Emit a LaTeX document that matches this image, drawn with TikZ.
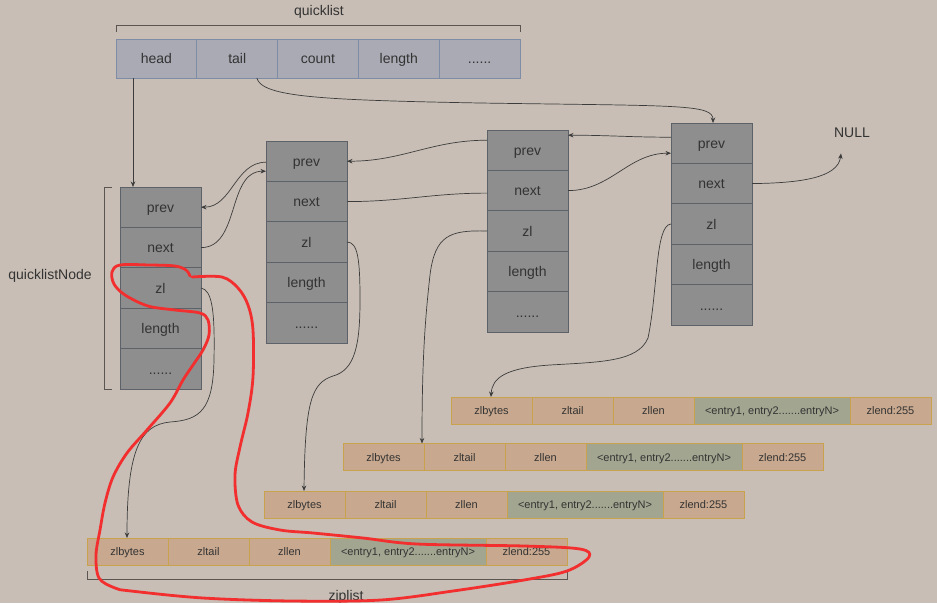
\documentclass[tikz,border=0pt]{standalone}
\usepackage{fontspec}
\setmainfont{Liberation Sans}
\usetikzlibrary{arrows.meta,calc}
\definecolor{bg}{HTML}{C8BEB5}
\definecolor{qfill}{HTML}{A9AAB4}
\definecolor{qborder}{HTML}{7F8CA6}
\definecolor{nfill}{HTML}{8E8E8E}
\definecolor{nborder}{HTML}{5D6168}
\definecolor{zfill}{HTML}{C8A88E}
\definecolor{zborder}{HTML}{C9A24E}
\definecolor{efill}{HTML}{A2A690}
\definecolor{txt}{HTML}{333333}
\definecolor{linec}{HTML}{3C3C3C}
\definecolor{brc}{HTML}{5A5550}
\definecolor{redc}{HTML}{F22E2E}
\newcommand\mkqnode[3]{%
  \node[ncell,anchor=north] (#1prev) at (#2,#3) {prev};
  \node[ncell,anchor=north] (#1next) at (#1prev.south) {next};
  \node[ncell,anchor=north] (#1zl) at (#1next.south) {zl};
  \node[ncell,anchor=north] (#1len) at (#1zl.south) {length};
  \node[ncell,anchor=north] (#1dots) at (#1len.south) {......};}
\newcommand\mkzl[3]{%
  \node[zs,anchor=north west] (#1a) at (#2,#3) {zlbytes};
  \node[zs,anchor=west] (#1b) at (#1a.east) {zltail};
  \node[zs,anchor=west] (#1c) at (#1b.east) {zllen};
  \node[ze,anchor=west] (#1d) at (#1c.east) {<entry1, entry2.......entryN>};
  \node[zs,anchor=west] (#1e) at (#1d.east) {zlend:255};}
\begin{document}
\begin{tikzpicture}[x=1pt,y=-1pt,
  qcell/.style={draw=qborder, fill=qfill, line width=0.8pt, minimum width=80.8pt, minimum height=39pt, inner sep=0pt, outer sep=0pt, font=\fontsize{14}{16}\selectfont, text=txt, text height=12.5pt, text depth=2pt},
  ncell/.style={draw=nborder, fill=nfill, line width=0.8pt, minimum width=81pt, minimum height=40.4pt, inner sep=0pt, outer sep=0pt, font=\fontsize{14}{16}\selectfont, text=txt, text height=12.5pt, text depth=2pt},
  zcell/.style={draw=zborder, fill=zfill, line width=0.8pt, minimum height=27pt, inner sep=0pt, outer sep=0pt, font=\fontsize{11}{13}\selectfont, text=txt, text height=9.5pt, text depth=1.5pt},
  zs/.style={zcell, minimum width=81pt},
  ze/.style={zcell, fill=efill, minimum width=156pt},
  conn/.style={draw=linec, line width=0.7pt},
  arr/.style={conn, -{Stealth[length=5.5pt,width=4.5pt]}},
  brk/.style={draw=brc, line width=0.9pt},
  lbl/.style={font=\fontsize{14}{16}\selectfont, text=txt},
  redmark/.style={draw=redc, line width=2.8pt, line cap=round, line join=round}]
\useasboundingbox[fill=bg] (0,0) rectangle (937,603);

% quicklist
\node[qcell,anchor=north west] (qhead) at (116,39) {head};
\node[qcell,anchor=west] (qtail) at (qhead.east) {tail};
\node[qcell,anchor=west] (qcount) at (qtail.east) {count};
\node[qcell,anchor=west] (qlen) at (qcount.east) {length};
\node[qcell,anchor=west] (qdots) at (qlen.east) {......};
\node[lbl] (qlabel) at (319,12) {quicklist};
\draw[brk] ([yshift=7pt]qhead.north west) -- ([yshift=14pt]qhead.north west) -| ([yshift=7pt]qdots.north east);

% quicklist nodes
\mkqnode{n1}{160.5}{187}
\mkqnode{n2}{306.5}{141}
\mkqnode{n3}{527.5}{130}
\mkqnode{n4}{711.5}{123}
\node[lbl] (qnlabel) at (50,276) {quicklistNode};
\draw[brk] ([xshift=-8pt]n1prev.north west) -- ([xshift=-16pt]n1prev.north west) |- ([xshift=-8pt]n1dots.south west);
\node[lbl] (null) at (852,133) {NULL};

% ziplists
\mkzl{za}{451}{397}
\mkzl{zb}{343}{443.5}
\mkzl{zc}{264}{491}
\mkzl{zd}{87}{538}
\draw[brk] ([yshift=-6pt]zda.south west) -- ([yshift=-14pt]zda.south west) -| ([yshift=-6pt]zde.south east);
\node[lbl] (zlabel) at (346,597) {ziplist};

% connectors
\draw[arr] ([xshift=17pt]qhead.south west) -- ([xshift=13pt]n1prev.north west);
\draw[arr] ([xshift=60pt]qtail.south west) .. controls (262,97) and (320,100) .. (480,103) .. controls (680,106) and (713,104) .. ([xshift=42pt]n4prev.north west);
\draw[arr] ([yshift=-1pt]n2prev.west) to[out=180,in=0] (n1prev.east);
\draw[arr] (n1next.east) to[out=0,in=180] ([yshift=-10pt]n2prev.west);
\draw[arr] ([yshift=10pt]n3prev.west) to[out=180,in=0] (n2prev.east);
\draw[conn] (n2next.east) to[out=0,in=180] ([yshift=-2.5pt]n3next.west);
\draw[arr] ([yshift=6pt]n4prev.west) to[out=180,in=0] ([yshift=15pt]n3prev.east);
\draw[arr] (n3next.east) to[out=0,in=180] ([yshift=-10pt]n4prev.west);
\draw[arr] (n4next.east) .. controls (800,183) and (838,178) .. ([xshift=-11pt,yshift=-12pt]null.south);
\draw[arr] (n4zl.west) .. controls (655,225) and (658,290) .. (648,338) .. controls (638,362) and (600,362) .. (550,365) .. controls (505,368) and (492,378) .. ([xshift=40pt]zaa.north west);
\draw[arr] (n3zl.west) .. controls (450,230) and (435,235) .. (430,275) .. controls (425,320) and (422,360) .. ([xshift=79pt]zba.north west);
\draw[arr] (n2zl.east) .. controls (358,242) and (360,260) .. (360,300) .. controls (360,345) and (355,370) .. (333,376) .. controls (312,383) and (305,400) .. ([xshift=40pt]zca.north west);
\draw[arr] (n1zl.east) .. controls (212,290) and (215,310) .. (214,360) .. controls (213,410) and (200,420) .. (170,422) .. controls (140,425) and (127,450) .. ([xshift=40pt]zda.north west);

% red hand-drawn mark
\draw[redmark] plot[smooth, tension=0.55] coordinates {
(190,276) (186,270) (175,266) (150,265) (120,265) (112,272) (114,284) (125,295) (148,306) (175,310) (200,313) (208,320) (209,335) (203,350) (193,365) (183,380) (170,403) (147,430) (127,453) (113,477) (105,503) (100,530) (96,555) (99,578) (115,588) (131,591) (203,598) (292,601) (381,600) (453,591) (524,580) (567,571) (589,557) (580,549) (524,546) (417,544) (363,538) (313,533) (280,530) (252,522) (238,505) (235,475) (240,447) (248,413) (253,377) (253,330) (248,305) (238,288) (222,277) (192,277)};
\end{tikzpicture}
\end{document}
